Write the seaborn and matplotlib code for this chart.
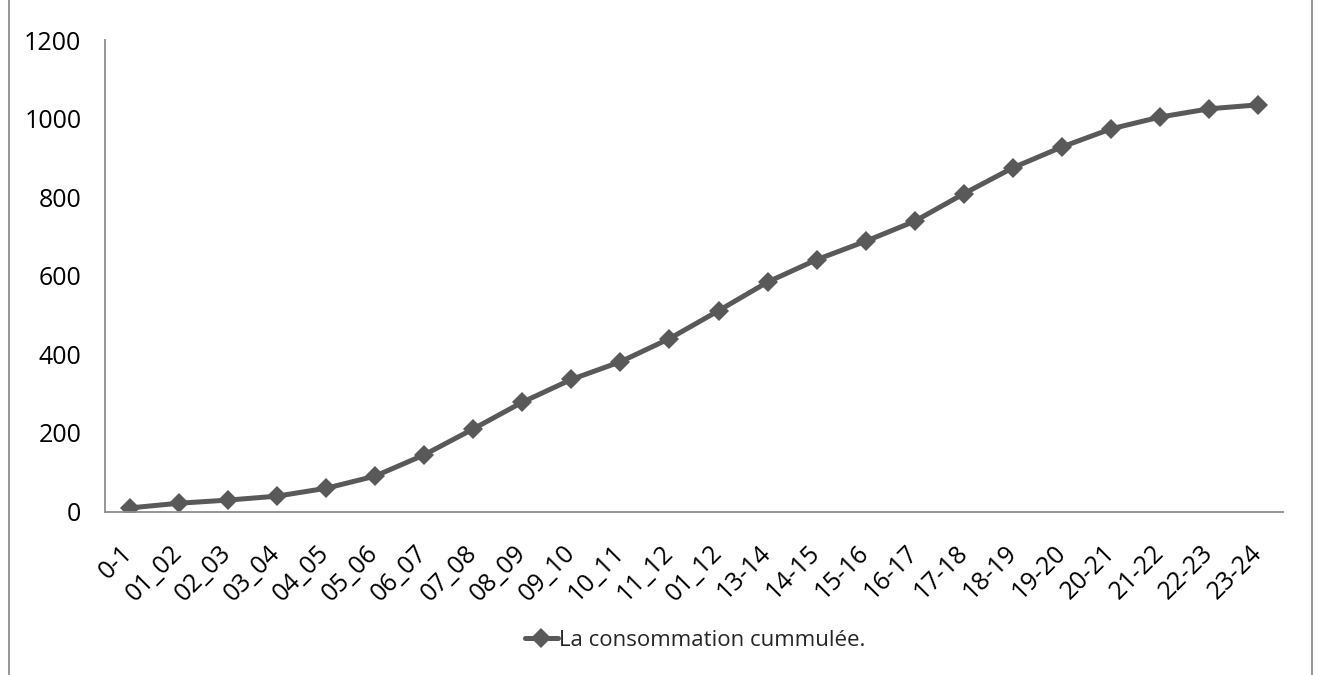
import numpy as np
import pandas as pd
import matplotlib
matplotlib.use("Agg")
import matplotlib.pyplot as plt
import matplotlib.transforms as mtransforms
from matplotlib.lines import Line2D
import seaborn as sns

# Hourly intervals and cumulative consumption
periods = ["0-1", "01_02", "02_03", "03_04", "04_05", "05_06", "06_07", "07_08",
           "08_09", "09_10", "10_11", "11_12", "01_12", "13-14", "14-15", "15-16",
           "16-17", "17-18", "18-19", "19-20", "20-21", "21-22", "22-23", "23-24"]
cumulative = [9, 21, 29, 39, 59, 90, 144, 210, 278, 336, 381, 440,
              511, 584, 641, 688, 739, 809, 875, 928, 974, 1004, 1025, 1035]
series_name = "La consommation cummulée."
y_ticks = [0, 200, 400, 600, 800, 1000, 1200]

sns.set_theme(style="white")
plt.rcParams["font.family"] = ["Open Sans", "DejaVu Sans"]

W, H = 1318, 675
fig = plt.figure(figsize=(W / 100, H / 100), dpi=100)
ax = fig.add_axes([105 / W, (H - 511.5) / H, (1283 - 105) / W, (511.5 - 40) / H])

df = pd.DataFrame({"idx": np.arange(len(periods)), "value": cumulative})
line_color = "#595959"
lw = 3.6
ms = 10.5
sns.lineplot(data=df, x="idx", y="value", ax=ax, sort=False, color=line_color,
             linewidth=lw, marker="D", markersize=ms, markeredgewidth=0,
             label=series_name, legend=False)

ax.set_xlim(-0.5, len(periods) - 0.5)
ax.set_ylim(0, 1200)
ax.set_yticks(y_ticks)
ax.set_yticklabels([str(v) for v in y_ticks])
ax.set_xticks(np.arange(len(periods)))
ax.set_xticklabels(periods, rotation=45, ha="right", va="top",
                   rotation_mode="anchor")
ax.set_xlabel("")
ax.set_ylabel("")
ax.tick_params(axis="both", length=0, labelsize=18, colors="black")
ax.tick_params(axis="y", pad=17)
ax.tick_params(axis="x", pad=21)

# nudge category labels so their upper end sits next to each tick
shift = mtransforms.ScaledTranslation(-0.09, 0, fig.dpi_scale_trans)
for lab in ax.get_xticklabels():
    lab.set_transform(lab.get_transform() + shift)

for side in ["top", "right"]:
    ax.spines[side].set_visible(False)
for side in ["left", "bottom"]:
    ax.spines[side].set_color("#8c8c8c")
    ax.spines[side].set_linewidth(1.3)

handle = Line2D([], [], color=line_color, linewidth=lw, marker="D",
                markersize=ms, markeredgewidth=0)
fig.legend([handle], [series_name], loc="center",
           bbox_to_anchor=(695 / W, 1 - 640 / H), frameon=False,
           fontsize=16, handlelength=1.5, handletextpad=0.05)

# Chart-area frame edges
for xpix in (8.5, 1311.5):
    fig.add_artist(Line2D([xpix / W, xpix / W], [0, 1], color="#8c8c8c",
                          linewidth=1.3, transform=fig.transFigure))

fig.savefig("out.png", dpi=100, facecolor="white")
